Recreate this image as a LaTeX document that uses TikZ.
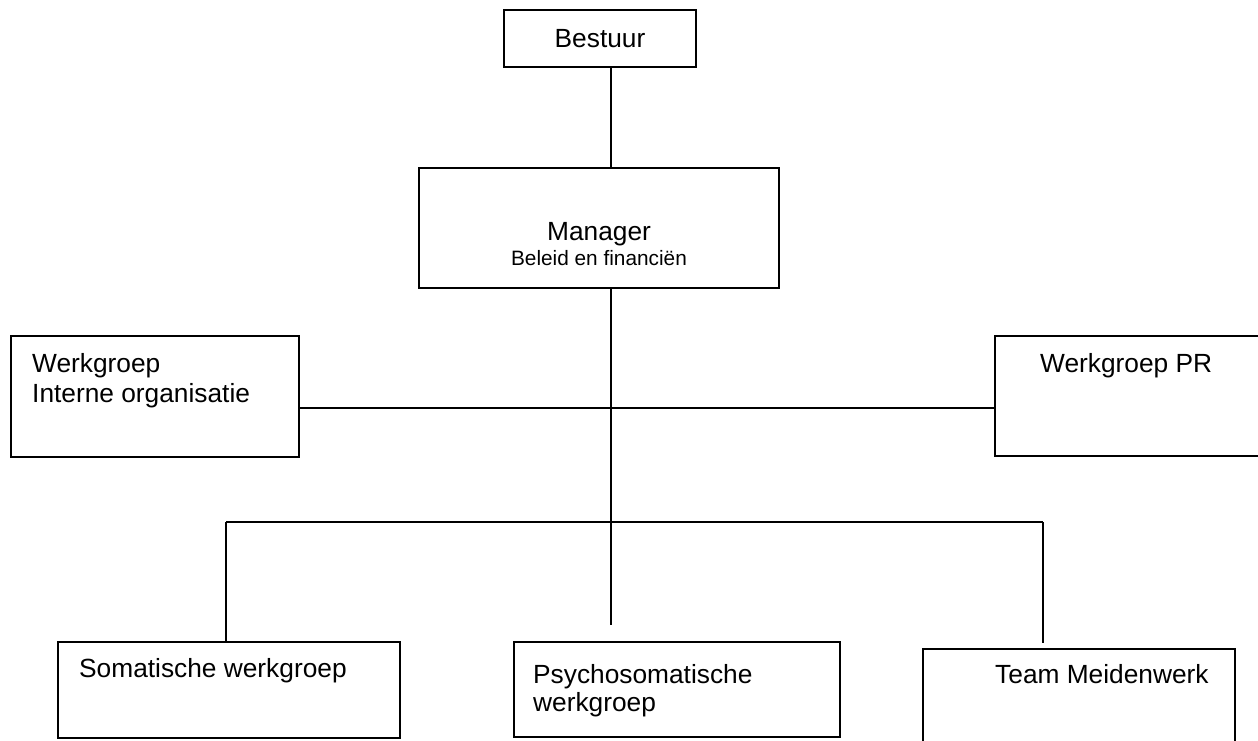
\documentclass[tikz,border=0pt]{standalone}
\usepackage{fontspec}
\setmainfont{Liberation Sans}
\begin{document}
\begin{tikzpicture}[x=1pt,y=-1pt,
  box/.style={draw=black,line width=1.6pt,rectangle,inner sep=0pt,outer sep=0pt,anchor=north west},
  conn/.style={draw=black,line width=1.5pt},
  big/.style={font=\fontsize{26.3pt}{30pt}\selectfont,inner sep=0pt,anchor=base west},
  small/.style={font=\fontsize{20.8pt}{24pt}\selectfont,inner sep=0pt,anchor=base}]
\useasboundingbox (0,0) rectangle (1258,740);
\clip (0,0) rectangle (1258,740);
\fill[white] (0,0) rectangle (1258,740);
% boxes
\node[box,minimum width=192pt,minimum height=57pt] (bestuur) at (504,10) {};
\node[box,minimum width=360pt,minimum height=120pt] (manager) at (419,168) {};
\node[box,minimum width=288pt,minimum height=121pt] (wio) at (11,336) {};
\node[box,minimum width=280pt,minimum height=120pt] (wpr) at (995,336) {};
\node[box,minimum width=342pt,minimum height=96pt] (som) at (58,642) {};
\node[box,minimum width=326pt,minimum height=95pt] (psy) at (514,642) {};
\node[box,minimum width=312pt,minimum height=100pt] (team) at (923,649) {};
% texts
\node[big,anchor=base] (bestuurT) at (600,47) {Bestuur};
\node[big,anchor=base] (managerT) at (599,240) {Manager};
\node[small] (managerS) at (599,265) {Beleid en financiën};
\node[big] (wioT1) at (32,372) {Werkgroep};
\node[big] (wioT2) at (32,402) {Interne organisatie};
\node[big] (wprT) at (1040,372) {Werkgroep PR};
\node[big] (somT) at (79,677) {Somatische werkgroep};
\node[big] (psyT1) at (533,683) {Psychosomatische};
\node[big] (psyT2) at (533,711) {werkgroep};
\node[big] (teamT) at (995,683) {Team Meidenwerk};
% coordinates
\coordinate (spine) at (611,625);
\coordinate (bl) at (226,522);
\coordinate (br) at (1043,522);
\coordinate (brend) at (1043,643);
% connectors
\draw[conn] (bestuur.south -| spine) -- (manager.north -| spine);
\draw[conn] (manager.south -| spine) -- (spine);
\draw[conn] (wio.east |- 0,408) -- (wpr.west |- 0,408);
\draw[conn] (bl) -- (br);
\draw[conn] (bl) -- (som.north -| bl);
\draw[conn] (br) -- (brend);
\end{tikzpicture}
\end{document}
